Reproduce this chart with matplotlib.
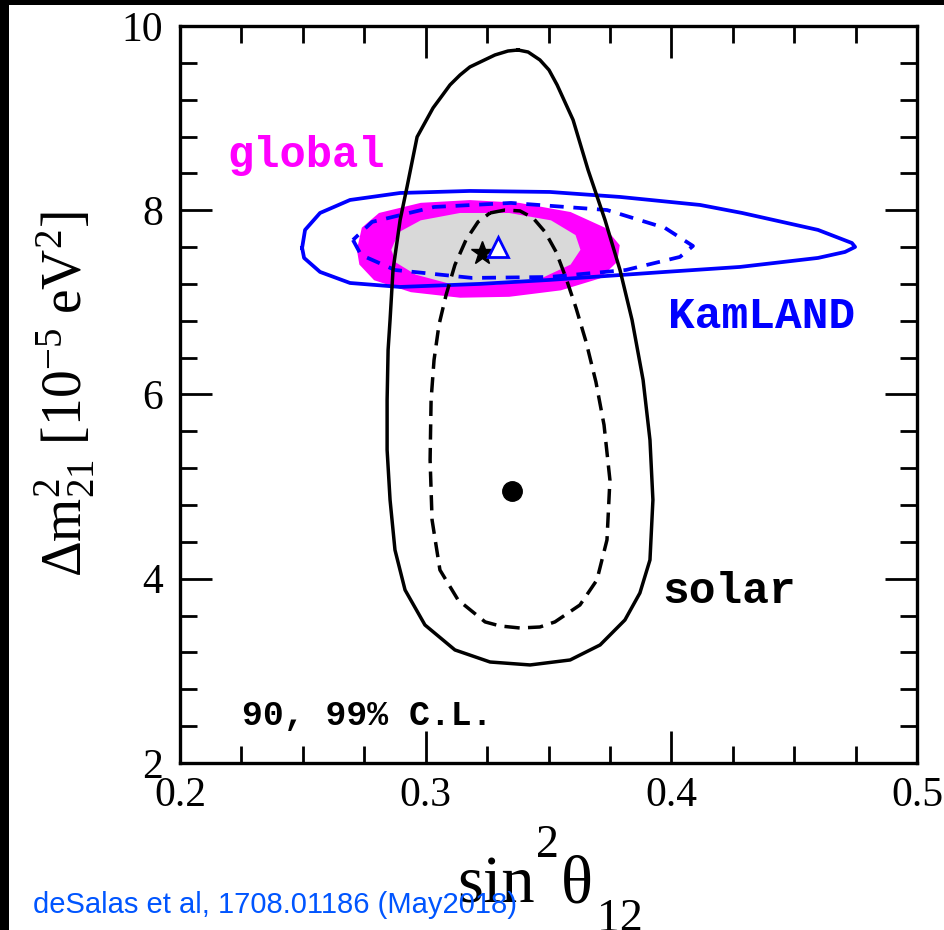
import numpy as np
import matplotlib
matplotlib.use("Agg")
import matplotlib.pyplot as plt
from matplotlib.patches import Rectangle

# Contours (sin^2 theta12, dm21^2 in 1e-5 eV^2)
solar99_x = [0.3376, 0.3417, 0.3465, 0.3502, 0.3535, 0.3600, 0.3661, 0.3730, 0.3791, 0.3840,
             0.3885, 0.3913, 0.3925, 0.3913, 0.3872, 0.3811, 0.3710, 0.3588, 0.3425, 0.3262,
             0.3119, 0.2997, 0.2916, 0.2875, 0.2855, 0.2843, 0.2843, 0.2847, 0.2855, 0.2867,
             0.2896, 0.2924, 0.2965, 0.2998, 0.3030, 0.3066, 0.3099, 0.3140, 0.3180, 0.3282,
             0.3335]
solar99_y = [9.739, 9.717, 9.631, 9.522, 9.360, 8.980, 8.437, 7.894, 7.351, 6.809,
             6.157, 5.506, 4.855, 4.204, 3.845, 3.552, 3.281, 3.118, 3.064, 3.096,
             3.227, 3.498, 3.878, 4.312, 4.855, 5.398, 5.940, 6.483, 6.809, 7.351,
             7.894, 8.252, 8.795, 8.955, 9.110, 9.240, 9.360, 9.468, 9.555, 9.685,
             9.728]

solar90_x = [0.3262, 0.3323, 0.3384, 0.3437, 0.3486, 0.3531, 0.3571, 0.3612, 0.3653, 0.3693,
             0.3726, 0.3750, 0.3738, 0.3697, 0.3628, 0.3526, 0.3465, 0.3384, 0.3303, 0.3242,
             0.3132, 0.3058, 0.3026, 0.3018, 0.3022, 0.3034, 0.3054, 0.3083, 0.3119, 0.3164,
             0.3213]
solar90_y = [7.970, 8.002, 7.992, 7.916, 7.764, 7.547, 7.265, 6.939, 6.570, 6.136,
             5.669, 5.072, 4.421, 3.986, 3.715, 3.531, 3.476, 3.465, 3.487, 3.531,
             3.769, 4.095, 4.638, 5.289, 5.940, 6.374, 6.754, 7.080, 7.406, 7.677,
             7.873]

kam99_x = [0.2497, 0.2505, 0.2570, 0.2692, 0.2896, 0.3221, 0.3502, 0.3974, 0.4279, 0.4597,
           0.4707, 0.4748, 0.4735, 0.4597, 0.4288, 0.4117, 0.3791, 0.3506, 0.3180, 0.2896,
           0.2692, 0.2570, 0.2509]
kam99_y = [7.591, 7.482, 7.330, 7.210, 7.167, 7.200, 7.243, 7.330, 7.384, 7.482,
           7.547, 7.601, 7.644, 7.786, 7.970, 8.057, 8.144, 8.198, 8.209, 8.187,
           8.111, 7.970, 7.786]

kam90_x = [0.2704, 0.2737, 0.2875, 0.3189, 0.3502, 0.3815, 0.4035, 0.4088, 0.3974, 0.3738,
           0.3347, 0.3034, 0.2782]
kam90_y = [7.677, 7.514, 7.351, 7.265, 7.275, 7.351, 7.493, 7.612, 7.808, 8.002,
           8.079, 8.035, 7.873]

glob99_x = [0.272, 0.274, 0.281, 0.298, 0.318, 0.338, 0.359, 0.373, 0.379, 0.378,
            0.371, 0.355, 0.334, 0.314, 0.294, 0.279, 0.273]
glob99_y = [7.57, 7.81, 7.97, 8.08, 8.11, 8.08, 7.98, 7.81, 7.62, 7.44,
            7.26, 7.13, 7.06, 7.05, 7.11, 7.24, 7.41]

glob90_x = [0.286, 0.289, 0.298, 0.314, 0.334, 0.351, 0.361, 0.363, 0.359, 0.347,
            0.328, 0.310, 0.296, 0.288]
glob90_y = [7.57, 7.76, 7.89, 7.97, 7.97, 7.89, 7.73, 7.57, 7.41, 7.26,
            7.19, 7.20, 7.30, 7.43]

# best fit points
solar_bf = (0.3350, 4.955)
global_bf = (0.3229, 7.536)
kam_bf = (0.3294, 7.601)

xticks = [0.2, 0.3, 0.4, 0.5]
xticklabels = ["0.2", "0.3", "0.4", "0.5"]
yticks = [2, 4, 6, 8, 10]


def closed(a):
    return list(a) + [a[0]]


plt.rcParams['font.family'] = ['Liberation Serif', 'DejaVu Serif']
plt.rcParams['mathtext.fontset'] = 'custom'
plt.rcParams['mathtext.rm'] = 'Liberation Serif'
plt.rcParams['mathtext.it'] = 'Liberation Serif:italic'
plt.rcParams['lines.scale_dashes'] = False

fig = plt.figure(figsize=(9.44, 9.30), dpi=100)
ax = fig.add_axes([0.1907, 0.1796, 0.7807, 0.7925])

# global regions
ax.fill(glob99_x, glob99_y, color='#ff00ff', lw=0, zorder=1)
ax.fill(glob90_x, glob90_y, color='#d9d9d9', lw=0, zorder=2)

# KamLAND
ax.plot(closed(kam99_x), closed(kam99_y), color='#0000ff', lw=2.7, zorder=3)
ax.plot(closed(kam90_x), closed(kam90_y), color='#0000ff', lw=2.7,
        linestyle=(0, (10, 7)), zorder=3)

# solar
ax.plot(closed(solar99_x), closed(solar99_y), color='black', lw=2.5, zorder=4)
ax.plot(closed(solar90_x), closed(solar90_y), color='black', lw=2.5,
        linestyle=(0, (11, 6)), zorder=4)

ax.plot(*solar_bf, 'o', color='black', ms=14, zorder=5)
ax.plot(*global_bf, '*', color='black', ms=17, zorder=5)
ax.plot(*kam_bf, '^', mfc='white', mec='#0000ff', mew=2, ms=14, zorder=5)

mono = dict(family='Liberation Mono', fontweight='bold')
ax.text(0.2191, 8.469, 'global', color='#ff00ff', fontsize=31.5, **mono)
ax.text(0.3986, 6.722, 'KamLAND', color='#0000ff', fontsize=32, **mono)
ax.text(0.3962, 3.737, 'solar', color='black', fontsize=32, **mono)
ax.text(0.2252, 2.412, '90, 99% C.L.', color='black', fontsize=25, **mono)

ax.set_xlim(0.2, 0.5)
ax.set_ylim(2, 10)
ax.set_xticks(xticks)
ax.set_xticklabels(xticklabels)
ax.set_yticks(yticks)
ax.set_xticks(np.arange(0.2, 0.5001, 0.025), minor=True)
ax.set_yticks(np.arange(2, 10.001, 0.4), minor=True)
ax.tick_params(which='both', direction='in', top=True, right=True, width=2, labelsize=30)
ax.tick_params(which='major', length=23)
ax.tick_params(which='minor', length=12)
ax.tick_params(axis='x', pad=10)
ax.tick_params(axis='y', pad=12)
for s in ax.spines.values():
    s.set_linewidth(2.4)

ax.text(-0.156, 0.5, r'$\mathrm{\Delta m^{2}_{21}\ [10^{-5}\ eV^{2}]}$', transform=ax.transAxes,
        rotation=90, ha='center', va='center', fontsize=40)

# x label built from pieces so the sub/superscripts sit like the original
W, H = 944, 930
fig.text(457 / W, 1 - 902 / H, 'sin', ha='left', va='baseline', fontsize=48)
fig.text(536 / W, 1 - 857 / H, '2', ha='left', va='baseline', fontsize=33)
fig.text(561 / W, 1 - 902 / H, '\u03b8', ha='left', va='baseline', fontsize=48)
fig.text(597 / W, 1 - 931 / H, '12', ha='left', va='baseline', fontsize=33)

fig.text(33 / W, 1 - 913 / H, 'deSalas et al, 1708.01186 (May2018)', color='#0055ff',
         fontsize=21, family='Liberation Sans', ha='left', va='baseline')

# black frame strips on left and top edge
fig.add_artist(Rectangle((0, 0), 9 / W, 1, transform=fig.transFigure, color='black', lw=0))
fig.add_artist(Rectangle((0, 1 - 5 / H), 1, 5 / H, transform=fig.transFigure, color='black', lw=0))

fig.savefig('out.png', dpi=100)
